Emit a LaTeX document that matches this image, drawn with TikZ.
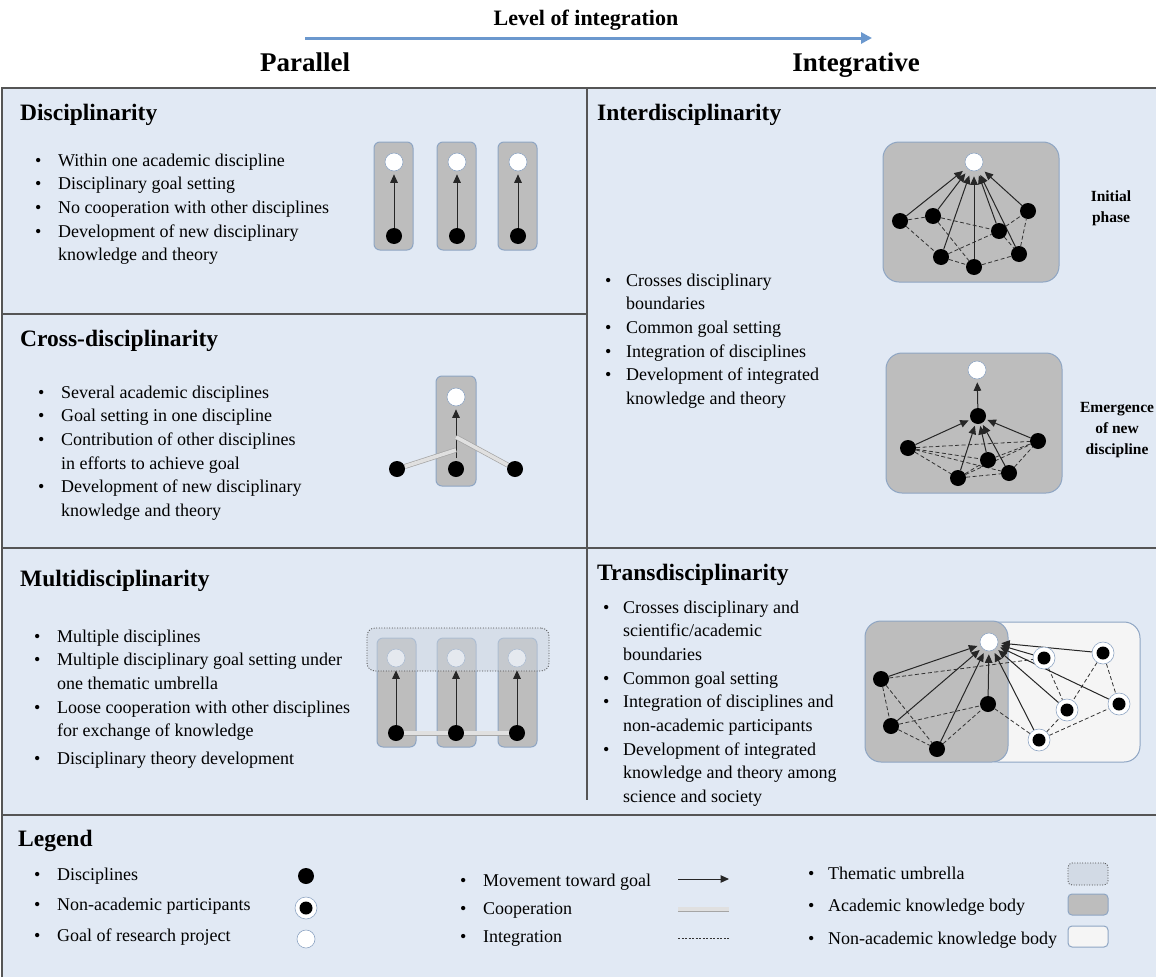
\documentclass[tikz,border=0pt]{standalone}
\usepackage{fontspec}
\setmainfont{Liberation Serif}
\usetikzlibrary{arrows.meta}

\definecolor{panelfill}{HTML}{E1E9F4}
\definecolor{rulecol}{HTML}{555555}
\definecolor{acadfill}{HTML}{BDBDBD}
\definecolor{bodyedge}{HTML}{8EA5C3}
\definecolor{nonacfill}{HTML}{F5F5F5}
\definecolor{umbrellafill}{HTML}{CDD5E0}
\definecolor{levelblue}{HTML}{6B98CE}
\definecolor{coopfill}{HTML}{E0E0E0}
\definecolor{coopedge}{HTML}{A5A5A5}

\pgfdeclarelayer{back}
\pgfdeclarelayer{wires}
\pgfsetlayers{back,wires,main}

% bullet list: bullet column (optional width) + text column
\newcommand{\pointlist}[2][22pt]{\begin{tabular}[t]{@{}p{#1}@{}l@{}}#2\end{tabular}}
\newcommand{\bul}{\textbullet&}

\begin{document}
\begin{tikzpicture}[x=1pt, y=-1pt,
  heading/.style={anchor=base west, inner sep=0pt, font=\fontsize{23.5}{28}\selectfont\bfseries},
  toplabel/.style={anchor=base, inner sep=0pt, font=\fontsize{27}{32}\selectfont\bfseries},
  listtext/.style={anchor=base west, inner sep=0pt, font=\fontsize{18}{23.7}\selectfont},
  sidelabel/.style={align=center, inner sep=0pt, font=\fontsize{15.5}{21}\selectfont\bfseries},
  goal/.style={circle, draw=bodyedge, fill=white, line width=0.6pt, minimum size=18pt, inner sep=0pt},
  disc/.style={circle, fill=black, minimum size=16pt, inner sep=0pt},
  nonacad/.style={circle, draw=bodyedge, line width=0.6pt, fill=white, minimum size=22pt, inner sep=0pt,
     path picture={\fill[black] (path picture bounding box.center) circle[radius=6.5pt];}},
  acadbody/.style={draw=bodyedge, line width=1pt, fill=acadfill, rounded corners=6pt, inner sep=0pt},
  bigbody/.style={draw=bodyedge, line width=1pt, fill=acadfill, rounded corners=16pt, inner sep=0pt},
  nonacbody/.style={draw=bodyedge, line width=1pt, fill=nonacfill, rounded corners=16pt, inner sep=0pt},
  umbrella/.style={draw=black!70, line width=0.8pt, dash pattern=on 1pt off 1.6pt, fill=umbrellafill, fill opacity=0.5, rounded corners=8pt, inner sep=0pt},
  move/.style={-{Triangle[length=8.5pt,width=7.5pt]}, line width=1pt, draw=black!85, shorten >=3pt},
  integ/.style={line width=0.8pt, draw=black!80, dash pattern=on 4pt off 2.5pt},
  coop/.style={line width=0.7pt, draw=coopedge, double=coopfill, double distance=3.6pt},
  divider/.style={draw=rulecol, line width=1.2pt},
]
\useasboundingbox (0,0) rectangle (1156,977);

% ---------- header ----------
\node[anchor=base, inner sep=0pt, font=\fontsize{22}{26}\selectfont\bfseries] (levtitle) at (586,25) {Level of integration};
\coordinate (levfrom) at (305,38);
\coordinate (levto) at (872,38);
\draw[levelblue, line width=3pt, -{Triangle[length=11pt,width=11pt]}] (levfrom) -- (levto);
\node[toplabel] (parallel) at (305,71) {Parallel};
\node[toplabel] (integrative) at (856,71) {Integrative};

% ---------- panels ----------
\begin{pgfonlayer}{back}
  \fill[panelfill] (2,88) rectangle (1156,977);
  \draw[divider] (2,977) -- (2,88) -- (1156,88);
  \draw[divider] (2,314) -- (587,314);
  \draw[divider] (2,548) -- (1156,548);
  \draw[divider] (2,815) -- (1156,815);
  \draw[divider] (587,88) -- (587,800);

  % knowledge bodies
  \node[acadbody, minimum width=39pt, minimum height=108pt] (db1) at (393.5,196) {};
  \node[acadbody, minimum width=39pt, minimum height=108pt] (db2) at (456.5,196) {};
  \node[acadbody, minimum width=39pt, minimum height=108pt] (db3) at (517.5,196) {};
  \node[acadbody, minimum width=40pt, minimum height=110pt] (cb) at (456,431) {};
  \node[acadbody, minimum width=39pt, minimum height=109pt] (mb1) at (396.5,692.5) {};
  \node[acadbody, minimum width=39pt, minimum height=109pt] (mb2) at (456.5,692.5) {};
  \node[acadbody, minimum width=39pt, minimum height=109pt] (mb3) at (517.5,692.5) {};
  \node[bigbody, minimum width=176pt, minimum height=140pt] (ib1) at (971,212) {};
  \node[bigbody, minimum width=176pt, minimum height=140pt] (ib2) at (974,423) {};
  \node[nonacbody, minimum width=158pt, minimum height=140pt] (tbn) at (1061,692) {};
  \node[bigbody, minimum width=143pt, minimum height=141pt] (tba) at (936.5,691.5) {};
\end{pgfonlayer}

% ---------- Disciplinarity ----------
\node[heading] (discttl) at (20,120) {Disciplinarity};
\node[listtext] (disclist) at (35,166) {\pointlist[23pt]{
  \bul Within one academic discipline\\
  \bul Disciplinary goal setting\\
  \bul No cooperation with other disciplines\\
  \bul Development of new disciplinary\\
  & knowledge and theory}};
\node[goal] (dg1) at (394,162) {};
\node[goal] (dg2) at (457,162) {};
\node[goal] (dg3) at (518,162) {};
\node[disc] (dd1) at (394,236) {};
\node[disc] (dd2) at (457,236) {};
\node[disc] (dd3) at (518,236) {};

% ---------- Cross-disciplinarity ----------
\node[heading] (crossttl) at (20,346) {Cross-disciplinarity};
\node[listtext] (crosslist) at (38,398) {\pointlist[23pt]{
  \bul Several academic disciplines\\
  \bul Goal setting in one discipline\\
  \bul Contribution of other disciplines\\
  & in efforts to achieve goal\\
  \bul Development of new disciplinary\\
  & knowledge and theory}};
\node[goal] (cg) at (456,397) {};
\node[disc] (cd1) at (397,469) {};
\node[disc] (cd2) at (456,469) {};
\node[disc] (cd3) at (515,469) {};
\coordinate (cj1) at (456,450);
\coordinate (cj2) at (456,437);
\coordinate (cstart) at (456,458);

% ---------- Multidisciplinarity ----------
\node[heading] (multittl) at (20,586) {Multidisciplinarity};
\node[listtext] (multilist) at (34,642) {\pointlist[23pt]{
  \bul Multiple disciplines\\
  \bul Multiple disciplinary goal setting under\\
  & one thematic umbrella\\
  \bul Loose cooperation with other disciplines\\
  & for exchange of knowledge\\[4pt]
  \bul Disciplinary theory development}};
\node[goal] (mg1) at (396,658) {};
\node[goal] (mg2) at (456,658) {};
\node[goal] (mg3) at (517,658) {};
\node[disc] (md1) at (396,733) {};
\node[disc] (md2) at (456,733) {};
\node[disc] (md3) at (517,733) {};
\node[umbrella, minimum width=182pt, minimum height=43pt] (mumb) at (458,649.5) {};

% ---------- Interdisciplinarity ----------
\node[heading] (interttl) at (597,120) {Interdisciplinarity};
\node[listtext] (interlist) at (605,286) {\pointlist[21pt]{
  \bul Crosses disciplinary\\
  & boundaries\\
  \bul Common goal setting\\
  \bul Integration of disciplines\\
  \bul Development of integrated\\
  & knowledge and theory}};
\node[sidelabel] (initlbl) at (1111,208) {Initial\\phase};
\node[sidelabel] (emerglbl) at (1117,430) {Emergence\\of new\\discipline};

% initial phase
\node[goal] (ia0) at (974,162) {};
\node[disc] (ia1) at (900,221) {};
\node[disc] (ia2) at (933,216) {};
\node[disc] (ia3) at (941,257) {};
\node[disc] (ia4) at (974,267) {};
\node[disc] (ia5) at (999,231) {};
\node[disc] (ia6) at (1019,254) {};
\node[disc] (ia7) at (1028,211) {};

% emergence of a new discipline
\node[goal] (eg) at (977,370) {};
\node[disc] (em) at (978,416) {};
\node[disc] (e1) at (908,448) {};
\node[disc] (e2) at (958,478) {};
\node[disc] (e3) at (988,460) {};
\node[disc] (e4) at (1009,473) {};
\node[disc] (e5) at (1038,441) {};

% ---------- Transdisciplinarity ----------
\node[heading] (transttl) at (597,580) {Transdisciplinarity};
\node[listtext] (translist) at (603,613) {\pointlist[20pt]{
  \bul Crosses disciplinary and\\
  & scientific/academic\\
  & boundaries\\
  \bul Common goal setting\\
  \bul Integration of disciplines and\\
  & non-academic participants\\
  \bul Development of integrated\\
  & knowledge and theory among\\
  & science and society}};
\node[goal] (tg) at (989,642) {};
\node[disc] (ta1) at (881,679) {};
\node[disc] (ta2) at (891,726) {};
\node[disc] (ta3) at (937,749) {};
\node[disc] (ta4) at (988,704) {};
\node[nonacad] (tn1) at (1044,658) {};
\node[nonacad] (tn2) at (1103,653) {};
\node[nonacad] (tn3) at (1067,710) {};
\node[nonacad] (tn4) at (1119,704) {};
\node[nonacad] (tn5) at (1039,740) {};

% ---------- Legend ----------
\node[heading] (legttl) at (18,846) {Legend};
\node[listtext, font=\fontsize{18}{30.5}\selectfont] (leg1) at (34,880) {\pointlist[23pt]{
  \bul Disciplines\\
  \bul Non-academic participants\\
  \bul Goal of research project}};
\node[listtext, font=\fontsize{18}{28}\selectfont] (leg2) at (460,886) {\pointlist[23pt]{
  \bul Movement toward goal\\
  \bul Cooperation\\
  \bul Integration}};
\node[listtext, font=\fontsize{18}{32.5}\selectfont] (leg3) at (808,879) {\pointlist[20pt]{
  \bul Thematic umbrella\\
  \bul Academic knowledge body\\
  \bul Non-academic knowledge body}};
\node[disc] (lgdisc) at (306,876) {};
\node[nonacad] (lgnonac) at (306,908) {};
\node[goal] (lggoal) at (306,939) {};
\coordinate (lmovea) at (678,879);
\coordinate (lmoveb) at (729,879);
\coordinate (lcoopa) at (678,909);
\coordinate (lcoopb) at (729,909);
\coordinate (linta) at (678,938);
\coordinate (lintb) at (729,938);
\node[umbrella, fill opacity=0.7, rounded corners=4pt, minimum width=40pt, minimum height=22pt] (lgumb) at (1088,874) {};
\node[acadbody, rounded corners=4pt, minimum width=40pt, minimum height=21pt] (lgacad) at (1088,904.5) {};
\node[nonacbody, rounded corners=4pt, minimum width=40pt, minimum height=21pt] (lgnonacb) at (1088,936.5) {};

% ---------- connectors ----------
\begin{pgfonlayer}{wires}
  % disciplinarity
  \draw[move] (dd1) -- (dg1);
  \draw[move] (dd2) -- (dg2);
  \draw[move] (dd3) -- (dg3);
  % cross-disciplinarity
  \draw[move] (cstart) -- (cg);
  \draw[coop] (cd1) -- (cj1);
  \draw[coop] (cj2) -- (cd3);
  % multidisciplinarity
  \draw[coop] (md1) -- (md2) -- (md3);
  \draw[move] (md1) -- (mg1);
  \draw[move] (md2) -- (mg2);
  \draw[move] (md3) -- (mg3);
  % initial phase
  \foreach \a/\b in {ia1/ia2, ia1/ia3, ia2/ia5, ia2/ia4, ia3/ia5, ia3/ia4, ia4/ia6, ia5/ia7, ia6/ia7, ia5/ia6}
    \draw[integ] (\a) -- (\b);
  \foreach \a in {ia1, ia2, ia3, ia4, ia5, ia6, ia7}
    \draw[move, shorten >=5pt] (\a) -- (ia0);
  % emergence
  \foreach \a/\b in {e1/e5, e1/e3, e1/e4, e1/e2, e2/e4, e2/e5, e2/e3, e3/e5, e4/e5}
    \draw[integ] (\a) -- (\b);
  \foreach \a in {e1, e2, e3, e4, e5}
    \draw[move, shorten >=2pt] (\a) -- (em);
  \draw[move] (em) -- (eg);
  % transdisciplinarity
  \foreach \a/\b in {ta1/ta2, ta1/ta3, ta1/tn1, ta2/ta4, ta2/ta3, ta3/ta4, ta4/tn5, tn5/tn3, tn5/tn4, tn1/tn3, tn2/tn3, tn2/tn4}
    \draw[integ] (\a) -- (\b);
  \foreach \a in {ta1, ta2, ta3, ta4, tn1, tn2, tn3, tn4, tn5}
    \draw[move, shorten >=3pt] (\a) -- (tg);
  % legend samples
  \draw[move, shorten >=0pt] (lmovea) -- (lmoveb);
  \draw[coop] (lcoopa) -- (lcoopb);
  \draw[integ, dash pattern=on 2pt off 1.5pt, line width=0.6pt] (linta) -- (lintb);
\end{pgfonlayer}
\end{tikzpicture}
\end{document}
